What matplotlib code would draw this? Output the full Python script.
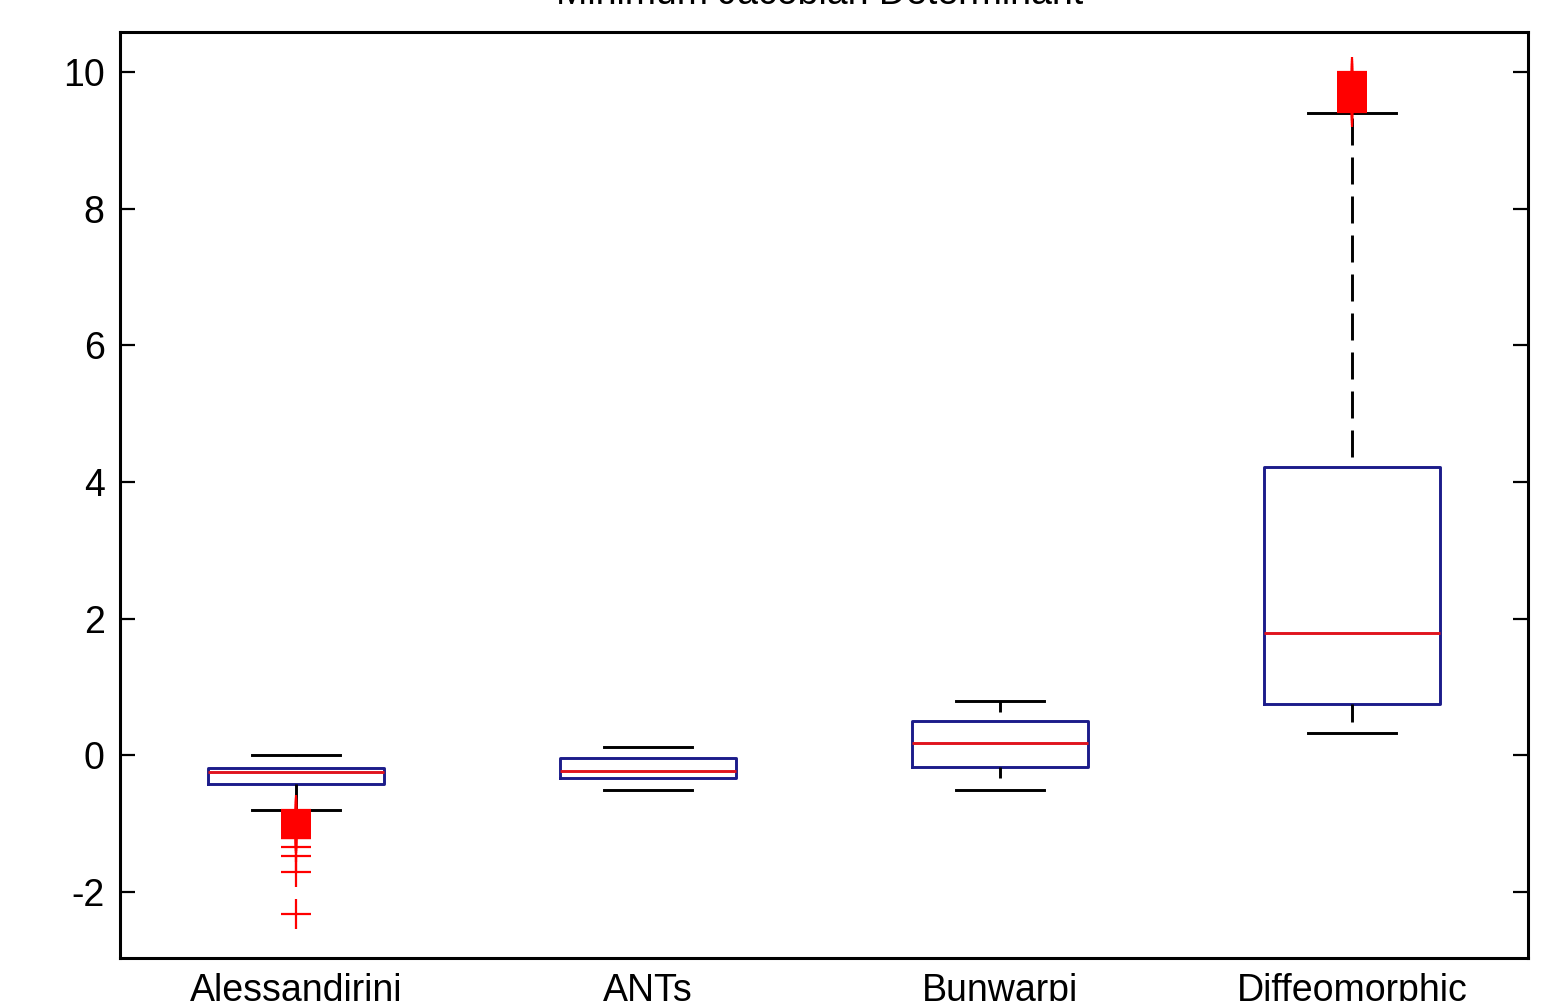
import matplotlib
matplotlib.use("Agg")
import matplotlib.pyplot as plt

plt.rcParams['font.family'] = ['Liberation Sans', 'DejaVu Sans']

title = "Minimum Jacobian Determinant"
methods = ["Alessandirini", "ANTs", "Bunwarpj", "Diffeomorphic"]
medians = [-0.25, -0.23, 0.18, 1.79]
q1s = [-0.42, -0.34, -0.18, 0.75]
q3s = [-0.19, -0.04, 0.50, 4.22]
whis_lo = [-0.80, -0.51, -0.51, 0.32]
whis_hi = [0.00, 0.12, 0.79, 9.41]
outliers_alessandrini = [-0.81, -0.83, -0.84, -0.86, -0.88, -0.89, -0.91, -0.93,
                         -0.94, -0.96, -0.98, -0.99, -1.01, -1.03, -1.04, -1.06,
                         -1.08, -1.09, -1.11, -1.13, -1.14, -1.16, -1.18, -1.19,
                         -1.21, -1.22, -1.35, -1.47, -1.71, -2.33]
outliers_ants = []
outliers_bunwarpj = []
outliers_diffeomorphic = [9.42, 9.45, 9.47, 9.50, 9.52, 9.55, 9.57, 9.60, 9.62,
                          9.65, 9.67, 9.70, 9.72, 9.75, 9.77, 9.80, 9.82, 9.85,
                          9.87, 9.90, 9.92, 9.95, 9.97, 10.0]
outliers = [outliers_alessandrini, outliers_ants, outliers_bunwarpj, outliers_diffeomorphic]
yticks = [-2, 0, 2, 4, 6, 8, 10]

stats = []
for i, m in enumerate(methods):
    stats.append(dict(label=m, med=medians[i], q1=q1s[i], q3=q3s[i],
                      whislo=whis_lo[i], whishi=whis_hi[i], fliers=outliers[i]))

fig = plt.figure(figsize=(15.41, 10.01), dpi=100)
ax = fig.add_axes([120/1541, 43/1001, 1408/1541, 926/1001])

box_color = '#1c1c8a'
lw = 2.1
dash_px, gap_px = 27, 12
px2u = 0.72 / lw
dash_u, gap_u = dash_px * px2u, gap_px * px2u

res = ax.bxp(stats, positions=[1, 2, 3, 4], widths=0.5, capwidths=0.25,
             boxprops=dict(color=box_color, linewidth=lw),
             medianprops=dict(color='#e0141e', linewidth=lw),
             whiskerprops=dict(color='black', linewidth=lw),
             capprops=dict(color='black', linewidth=lw),
             flierprops=dict(marker='+', markersize=21, markeredgewidth=1.6,
                             markeredgecolor='red', linestyle='none'),
             showfliers=True)

# dash phase (px) for each whisker: [lower, upper] per box
offsets_px = [(0, dash_px), (dash_px, dash_px), (dash_px - 11, dash_px + 3),
              (dash_px - 18, dash_px + 2)]
for i in range(4):
    lo_w = res['whiskers'][2 * i]
    hi_w = res['whiskers'][2 * i + 1]
    lo_w.set_linestyle((offsets_px[i][0] * px2u, (dash_u, gap_u)))
    hi_w.set_linestyle((offsets_px[i][1] * px2u, (dash_u, gap_u)))

ax.set_xlim(0.5, 4.5)
ax.set_ylim(-2.97, 10.59)
ax.set_yticks(yticks)
ax.set_yticklabels([str(t) for t in yticks])
ax.tick_params(axis='y', direction='in', length=11, width=1.6, right=True,
               labelsize=27, pad=11)
ax.tick_params(axis='x', length=0, labelsize=27, pad=11)
for s in ax.spines.values():
    s.set_linewidth(2.2)

fig.text(0.532, 1 - 4/1001, title, ha='center', va='baseline', fontsize=27)

fig.savefig("out.png", dpi=100, facecolor='white')
